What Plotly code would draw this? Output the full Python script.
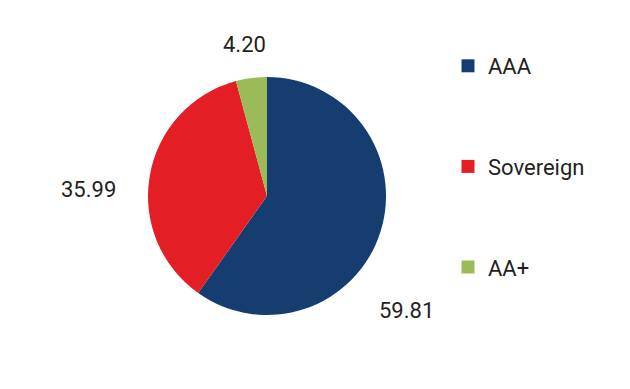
import plotly.graph_objects as go

categories = ["AAA", "Sovereign", "AA+"]
values = [59.81, 35.99, 4.20]
colors = ["#163d70", "#e31e25", "#9bbb59"]
# label anchor positions (paper fractions) for the data labels
label_pos = [(398 / 630, 1 - 302 / 389), (80 / 630, 1 - 181 / 389), (236 / 630, 1 - 37 / 389)]

W, H = 630, 389
fig = go.Figure()
fig.add_trace(go.Pie(
    labels=categories, values=values, sort=False, direction="clockwise",
    rotation=0, marker=dict(colors=colors, line=dict(width=0)),
    textinfo="none",
    domain=dict(x=[140 / W, 378 / W], y=[82 / H, 320 / H]),
    showlegend=False, hoverinfo="label+value",
))
for c, col in zip(categories, colors):
    fig.add_trace(go.Scatter(
        x=[None], y=[None], mode="markers", name=c, legendgroup=c,
        marker=dict(symbol="square", size=13, color=col),
        showlegend=True,
    ))

annotations = []
for v, (ax, ay) in zip(values, label_pos):
    annotations.append(dict(
        x=ax, y=ay, xref="paper", yref="paper", text=f"{v:.2f}",
        showarrow=False, xanchor="center", yanchor="middle",
        font=dict(family="Roboto", size=22, color="#231f20"),
    ))

fig.update_layout(
    width=W, height=H, margin=dict(l=0, r=0, t=0, b=0),
    paper_bgcolor="white", plot_bgcolor="white",
    font=dict(family="Roboto", size=22, color="#231f20"),
    xaxis=dict(visible=False), yaxis=dict(visible=False),
    annotations=annotations,
    legend=dict(x=440 / W, y=1 - 37 / H, xanchor="left", yanchor="top",
                tracegroupgap=69, itemwidth=30,
                font=dict(family="Roboto", size=22, color="#231f20")),
)
fig.write_html("out.html")
